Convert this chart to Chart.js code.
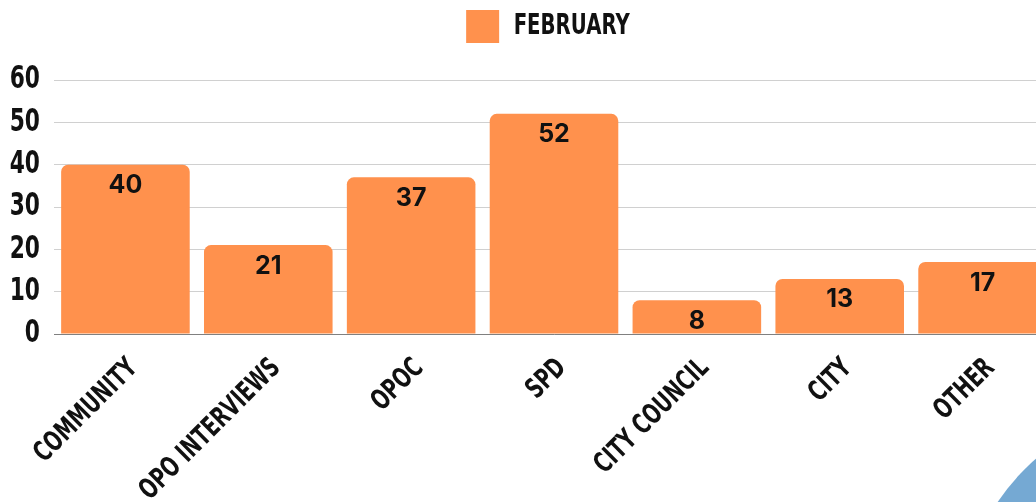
<!DOCTYPE html>
<html>
<head>
<meta charset="utf-8">
<script src="https://cdn.jsdelivr.net/npm/chart.js@4/dist/chart.umd.min.js"></script>
<style>
  html, body { margin: 0; padding: 0; width: 1036px; height: 502px; overflow: hidden; background: #fff; }
  #blob { position: absolute; left: 960px; top: 405px; width: 440px; height: 440px; border-radius: 50%; background: #75a9d3; }
  #grafico { position: absolute; left: 0; top: 0; }
</style>
</head>
<body>
<div id="blob"></div>
<canvas id="grafico" width="1096" height="502"></canvas>
<script>
// categorias e valores
const categorias = ['COMMUNITY', 'OPO INTERVIEWS', 'OPOC', 'SPD', 'CITY COUNCIL', 'CITY', 'OTHER'];
const valoresFevereiro = [40, 21, 37, 52, 8, 13, 17];
const ticksY = [0, 10, 20, 30, 40, 50, 60];

// fonte "estreita": DejaVu Sans comprimida na horizontal
const fonteEixo = "'DejaVu Sans'";
const CONDENSA = 0.68;

const ctx = document.getElementById('grafico').getContext('2d');

const fillOriginal = ctx.fillText;
ctx.fillText = function (texto, x, y, maxW) {
    if (this.font.indexOf('DejaVu Sans') === -1) {
        return maxW === undefined ? fillOriginal.call(this, texto, x, y) : fillOriginal.call(this, texto, x, y, maxW);
    }
    this.save();
    this.translate(x, y);
    this.scale(CONDENSA, 1);
    fillOriginal.call(this, texto, 0, 0);
    this.restore();
};
const measureOriginal = ctx.measureText;
ctx.measureText = function (texto) {
    const m = measureOriginal.call(this, texto);
    if (this.font.indexOf('DejaVu Sans') === -1) return m;
    return {
        width: m.width * CONDENSA,
        actualBoundingBoxLeft: m.actualBoundingBoxLeft * CONDENSA,
        actualBoundingBoxRight: m.actualBoundingBoxRight * CONDENSA,
        actualBoundingBoxAscent: m.actualBoundingBoxAscent,
        actualBoundingBoxDescent: m.actualBoundingBoxDescent
    };
};

// escreve o valor dentro do topo de cada barra
const rotulosBarras = {
    id: 'rotulosBarras',
    afterDatasetsDraw(chart) {
        const c = chart.ctx;
        const meta = chart.getDatasetMeta(0);
        c.save();
        c.font = "bold 25px Inter, 'Noto Sans', sans-serif";
        c.fillStyle = '#111';
        c.textAlign = 'center';
        c.textBaseline = 'middle';
        meta.data.forEach((bar, i) => {
            c.fillText(String(valoresFevereiro[i]), bar.x, bar.y + 21);
        });
        c.restore();
    }
};

// a legenda fica centrada na largura toda, nao so na area com padding
const centraLegenda = {
    id: 'centraLegenda',
    beforeDraw(chart) {
        const leg = chart.legend;
        if (leg._centrada) return;
        const desvio = chart.width / 2 - (leg.left + leg.right) / 2;
        leg.left += desvio;
        leg.right += desvio;
        leg._centrada = true;
    }
};

const grafico = new Chart(ctx, {
    type: 'bar',
    data: {
        labels: categorias,
        datasets: [{
            label: 'February',
            data: valoresFevereiro,
            backgroundColor: '#ff914d',
            borderRadius: 7,
            barPercentage: 0.9,
            categoryPercentage: 1.0
        }]
    },
    options: {
        responsive: false,
        animation: false,
        layout: { padding: { left: 0, right: 42, top: 0, bottom: 0 } },
        plugins: {
            legend: {
                position: 'top',
                labels: {
                    boxWidth: 33,
                    boxHeight: 33,
                    padding: 10,
                    color: '#111',
                    font: { family: fonteEixo, size: 29, weight: 'bold' },
                    generateLabels(chart) {
                        const itens = Chart.defaults.plugins.legend.labels.generateLabels(chart);
                        itens.forEach(it => { it.text = it.text.toUpperCase(); it.lineWidth = 0; });
                        return itens;
                    }
                }
            },
            subtitle: {
                display: true,
                text: ' ',
                weight: 500,
                font: { size: 10 },
                padding: { top: 0, bottom: 15 }
            },
            tooltip: { enabled: false }
        },
        scales: {
            x: {
                grid: { display: false, drawTicks: false },
                border: { display: true, color: '#808080', width: 1 },
                ticks: {
                    color: '#111',
                    minRotation: 45,
                    maxRotation: 45,
                    padding: 18,
                    labelOffset: 8,
                    font: { family: fonteEixo, size: 28, weight: 'bold' }
                },
                afterFit(scale) { scale.height = 168; }
            },
            y: {
                min: 0,
                max: 60,
                grid: { color: '#d0d0d0', lineWidth: 1, drawTicks: false },
                border: { display: false },
                afterBuildTicks(scale) { scale.ticks = ticksY.map(v => ({ value: v })); },
                ticks: {
                    color: '#111',
                    padding: 14,
                    font: { family: fonteEixo, size: 32, weight: 'bold' }
                },
                afterFit(scale) { scale.width = 54; }
            }
        }
    },
    plugins: [rotulosBarras, centraLegenda]
});
</script>
</body>
</html>
